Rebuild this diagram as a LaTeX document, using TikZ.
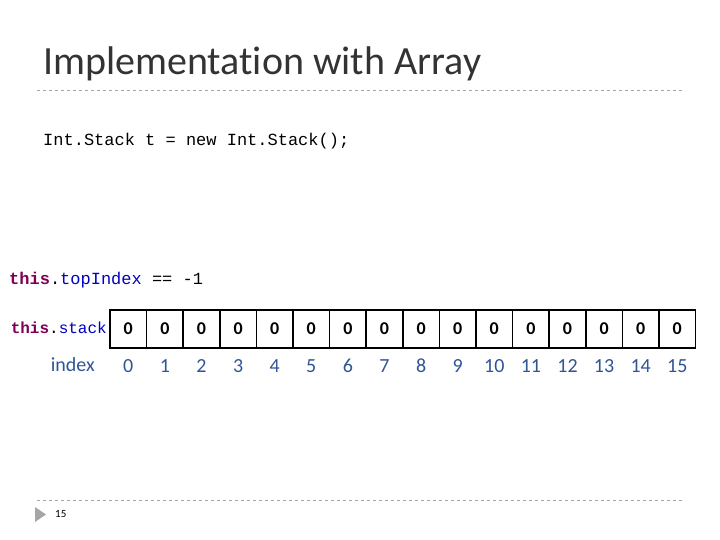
\documentclass[tikz,border=0pt]{standalone}
\usepackage{fontspec}
\setmainfont[Ligatures=NoCommon]{Carlito}
\setmonofont{Liberation Mono}
\definecolor{kw}{HTML}{7F0055}
\definecolor{fld}{HTML}{0000C0}
\definecolor{idx}{HTML}{2F5597}
\definecolor{gr}{HTML}{A6A6A6}
\tikzset{cell/.style={draw,line width=1.6pt,minimum width=36.6pt,minimum height=38pt,inner sep=0pt,font=\fontsize{18}{18}\selectfont\bfseries},
lbl/.style={inner sep=0pt},
ix/.style={inner sep=0pt,text=idx,font=\fontsize{20}{20}\selectfont},
mono/.style={inner sep=0pt,font=\fontsize{17}{17}\selectfont\ttfamily}}
\begin{document}
\begin{tikzpicture}[x=1pt,y=-1pt]
\useasboundingbox (0,0) rectangle (720,540);
\node[lbl,anchor=west,font=\fontsize{40}{40}\selectfont,text=black!80] (title) at (43,64) {Implementation with Array};
\draw[gr,dashed,line width=0.8pt] (37,90) -- (685,90);
\draw[gr,dashed,line width=0.8pt] (37,500) -- (685,500);
\node[mono,anchor=west] (code) at (43,141) {Int.Stack t = new Int.Stack();};
\node[mono,anchor=west] (top) at (9,280) {\textcolor{kw}{\bfseries this}.\textcolor{fld}{topIndex} == -1};
\foreach \i in {0,...,15}{
  \node[cell] (c\i) at (128.3+36.6*\i,329) {0};
  \node[ix] (n\i) at (128.3+36.6*\i,366) {\i};
}
\node[mono,anchor=east,font=\fontsize{16}{16}\selectfont\ttfamily] (st) at (107,328) {\textcolor{kw}{\bfseries this}.\textcolor{fld}{stack}};
\node[ix,anchor=east] (ind) at (95,365) {index};
\fill[gr] (35,507) -- (46,514.5) -- (35,522) -- cycle;
\node[lbl,anchor=west,font=\fontsize{11}{11}\selectfont] (pg) at (55,514) {15};
\end{tikzpicture}
\end{document}
